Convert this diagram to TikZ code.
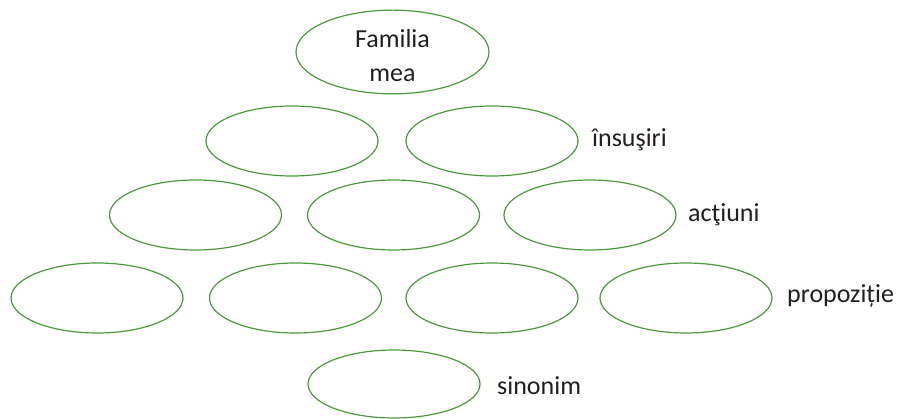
\documentclass[tikz,border=0pt]{standalone}
\usepackage{fontspec}
\setmainfont{Carlito}
\usetikzlibrary{shapes.geometric}
\definecolor{ovalgreen}{RGB}{74,154,58}
\definecolor{labelgray}{RGB}{35,31,32}
\begin{document}
\begin{tikzpicture}[x=1pt,y=-1pt,
  oval/.style={ellipse, draw=ovalgreen, line width=1.2pt, minimum width=172pt, minimum height=70pt, inner sep=0pt},
  lbl/.style={anchor=base west, inner sep=0pt, text=labelgray, font=\fontsize{26pt}{34pt}\selectfont}]
\useasboundingbox (0,0) rectangle (897,419);
\node[oval, minimum width=193pt, minimum height=80pt, align=center, text=labelgray,
      font=\fontsize{26pt}{34pt}\selectfont] (top) at (392.5,52)
      {\rule{0pt}{25pt}Familia\\mea};
\node[oval] (r2a) at (292,141) {};
\node[oval] (r2b) at (492,141) {};
\node[oval] (r3a) at (195.5,215) {};
\node[oval] (r3b) at (393.5,215) {};
\node[oval] (r3c) at (590,215) {};
\node[oval] (r4a) at (97,298) {};
\node[oval] (r4b) at (295.5,298) {};
\node[oval] (r4c) at (492,298) {};
\node[oval] (r4d) at (686,298) {};
\node[oval, minimum height=68pt] (r5) at (394,384) {};
\node[lbl] (l2) at (592,147) {însuşiri};
\node[lbl] (l3) at (688,222) {acţiuni};
\node[lbl] (l4) at (787,303) {propoziție};
\node[lbl] (l5) at (497,395) {sinonim};
\end{tikzpicture}
\end{document}
